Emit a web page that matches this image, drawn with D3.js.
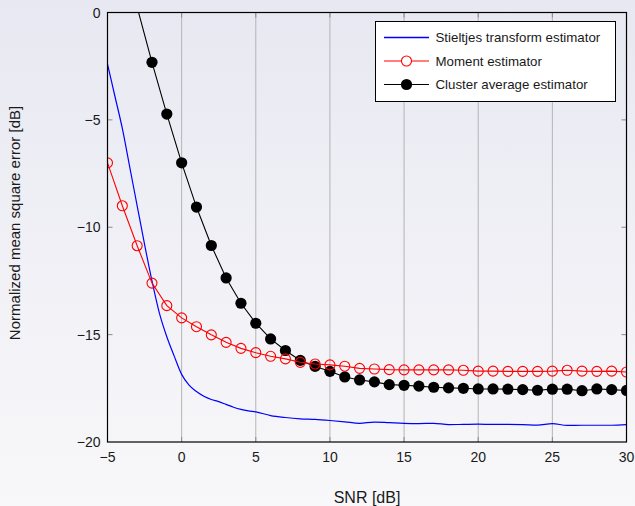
<!DOCTYPE html>
<meta charset="utf-8">
<style>
html, body { margin: 0; padding: 0; }
body {
  width: 635px; height: 506px; overflow: hidden;
  background: linear-gradient(#e8e8f2, #f8f8fa);
  font-family: "Liberation Sans", Arial, sans-serif;
}
.grid line { stroke: #b4b4b4; stroke-width: 1; }
.tick-mark { stroke: #8a8a8a; stroke-width: 1; }
</style>
<body>
<svg width="635" height="506"></svg>
<script src="https://cdn.jsdelivr.net/npm/d3@7"></script>
<script>

// Stieltjes transform estimator (blue, no markers)
var stieltjesSnr = [-5, -4.5, -4, -3.5, -3, -2.5, -2, -1.5, -1, -0.5, 0, 0.5, 1, 1.5, 2, 2.5, 3, 3.5, 4, 4.5, 5,
  6, 7, 8, 9, 10, 11, 12, 13, 14, 15, 16, 17, 18, 19, 20, 21, 22, 23, 24, 25, 26, 27, 28, 29, 30];
var stieltjesMse = [-2.4, -3.9, -5.4, -7.2, -9.0, -10.8, -12.5, -14.0, -15.1, -16.0, -16.85, -17.35, -17.65, -17.87, -18.02, -18.12, -18.25, -18.38, -18.48, -18.55, -18.6,
  -18.77, -18.86, -18.92, -18.95, -19.0, -19.06, -19.13, -19.07, -19.1, -19.13, -19.14, -19.13, -19.19, -19.18, -19.17, -19.18, -19.18, -19.19, -19.21, -19.14, -19.23, -19.22, -19.22, -19.22, -19.19];

// Moment estimator (red, open circles)
var momentSnr = d3.range(-5, 31);
var momentMse = [-7.0, -9.0, -10.86, -12.6, -13.65, -14.22, -14.63, -15.01, -15.36, -15.64, -15.84, -16.01, -16.13, -16.29, -16.37, -16.41,
  -16.47, -16.57, -16.6, -16.63, -16.64, -16.64, -16.64, -16.64, -16.66, -16.7, -16.7, -16.71, -16.71, -16.71, -16.7, -16.66, -16.7, -16.71, -16.7, -16.74];

// Cluster average estimator (black, filled circles)
var clusterSnr = d3.range(-3, 31);
var clusterMse = [0.25, -2.32, -4.73, -7.0, -9.06, -10.85, -12.36, -13.54, -14.47, -15.2, -15.74, -16.2, -16.48, -16.71,
  -16.97, -17.11, -17.2, -17.33, -17.36, -17.4, -17.45, -17.48, -17.5, -17.53, -17.53, -17.54, -17.56, -17.59, -17.54, -17.54, -17.61, -17.53, -17.56, -17.6];

var xTicks = [-5, 0, 5, 10, 15, 20, 25, 30];
var yTicks = [0, -5, -10, -15, -20];
var legendNames = ["Stieltjes transform estimator", "Moment estimator", "Cluster average estimator"];

var pl = 107.5, pr = 626.5, pt = 12.5, pb = 442;
var svg = d3.select("svg");

var x = d3.scaleLinear().domain([-5, 30]).range([pl, pr]);
var y = d3.scaleLinear().domain([-20, 0]).range([pb, pt]);

var fmt = function(d) { return d < 0 ? "\u2212" + Math.abs(d) : String(d); };

// clip
svg.append("clipPath").attr("id", "plotclip")
  .append("rect").attr("x", pl).attr("y", pt).attr("width", pr - pl).attr("height", pb - pt);

// vertical grid
svg.append("g").attr("class", "grid")
  .selectAll("line").data(xTicks.slice(1, -1)).enter().append("line")
  .attr("x1", d => x(d)).attr("x2", d => x(d))
  .attr("y1", pt).attr("y2", pb);

// tick marks (inward, both sides)
var tm = svg.append("g");
xTicks.slice(1, -1).forEach(function(d) {
  tm.append("line").attr("class", "tick-mark").attr("x1", x(d)).attr("x2", x(d)).attr("y1", pb).attr("y2", pb - 5);
  tm.append("line").attr("class", "tick-mark").attr("x1", x(d)).attr("x2", x(d)).attr("y1", pt).attr("y2", pt + 5);
});
yTicks.slice(1, -1).forEach(function(d) {
  tm.append("line").attr("class", "tick-mark").attr("x1", pl).attr("x2", pl + 5).attr("y1", y(d)).attr("y2", y(d));
  tm.append("line").attr("class", "tick-mark").attr("x1", pr).attr("x2", pr - 5).attr("y1", y(d)).attr("y2", y(d));
});

var plot = svg.append("g").attr("clip-path", "url(#plotclip)");

var line = d3.line().x(d => x(d[0])).y(d => y(d[1]));

var blueData = stieltjesSnr.map((d, i) => [d, stieltjesMse[i]]);
var redData = momentSnr.map((d, i) => [d, momentMse[i]]);
var blackData = clusterSnr.map((d, i) => [d, clusterMse[i]]);

plot.append("path").datum(blueData)
  .attr("fill", "none").attr("stroke", "#0000ff").attr("stroke-width", 1.2)
  .attr("d", line.curve(d3.curveMonotoneX));
line.curve(d3.curveLinear);

plot.append("path").datum(blackData)
  .attr("fill", "none").attr("stroke", "#000").attr("stroke-width", 1.1)
  .attr("d", line);
plot.selectAll(".blk").data(blackData).enter().append("circle")
  .attr("cx", d => x(d[0])).attr("cy", d => y(d[1])).attr("r", 5.6).attr("fill", "#000");

plot.append("path").datum(redData)
  .attr("fill", "none").attr("stroke", "#ff0000").attr("stroke-width", 1.1)
  .attr("d", line);
plot.selectAll(".red").data(redData).enter().append("circle")
  .attr("cx", d => x(d[0])).attr("cy", d => y(d[1])).attr("r", 5)
  .attr("fill", "none").attr("stroke", "#ff0000").attr("stroke-width", 1.1);

// axis box
svg.append("rect").attr("x", pl).attr("y", pt).attr("width", pr - pl).attr("height", pb - pt)
  .attr("fill", "none").attr("stroke", "#000").attr("stroke-width", 1.2);

// tick labels
svg.append("g").selectAll("text").data(xTicks).enter().append("text")
  .attr("x", d => x(d)).attr("y", pb + 20).attr("text-anchor", "middle")
  .style("font-size", "14px").attr("fill", "#1a1a1a").text(fmt);
svg.append("g").selectAll("text").data(yTicks).enter().append("text")
  .attr("x", pl - 7).attr("y", d => y(d) + 5).attr("text-anchor", "end")
  .style("font-size", "14px").attr("fill", "#1a1a1a").text(fmt);

// axis labels
svg.append("text").attr("x", (pl + pr) / 2).attr("y", 503).attr("text-anchor", "middle")
  .style("font-size", "16px").attr("fill", "#1a1a1a").text("SNR [dB]");
svg.append("text").attr("transform", "translate(20,223) rotate(-90)")
  .attr("text-anchor", "middle").style("font-size", "15px").attr("fill", "#1a1a1a")
  .text("Normalized mean square error [dB]");

// legend
var lg = svg.append("g");
lg.append("rect").attr("x", 375.5).attr("y", 21.5).attr("width", 240).attr("height", 80)
  .attr("fill", "#fff").attr("stroke", "#000").attr("stroke-width", 1);
var rows = [37.5, 61, 84.5];
var cols = ["#0000ff", "#ff0000", "#000000"];
rows.forEach(function(ry, i) {
  lg.append("line").attr("x1", 384).attr("x2", 429).attr("y1", ry).attr("y2", ry)
    .style("stroke", cols[i]).style("stroke-width", i == 0 ? 1.3 : 1.1);
  if (i == 1) lg.append("circle").attr("cx", 406.5).attr("cy", ry).attr("r", 5)
    .attr("fill", "#fff").attr("stroke", "#ff0000").attr("stroke-width", 1.1);
  if (i == 2) lg.append("circle").attr("cx", 406.5).attr("cy", ry).attr("r", 5.6).attr("fill", "#000");
  lg.append("text").attr("x", 435.5).attr("y", ry + 4.5)
    .style("font-size", "13.3px").attr("fill", "#1a1a1a").text(legendNames[i]);
});
</script>
</body>
